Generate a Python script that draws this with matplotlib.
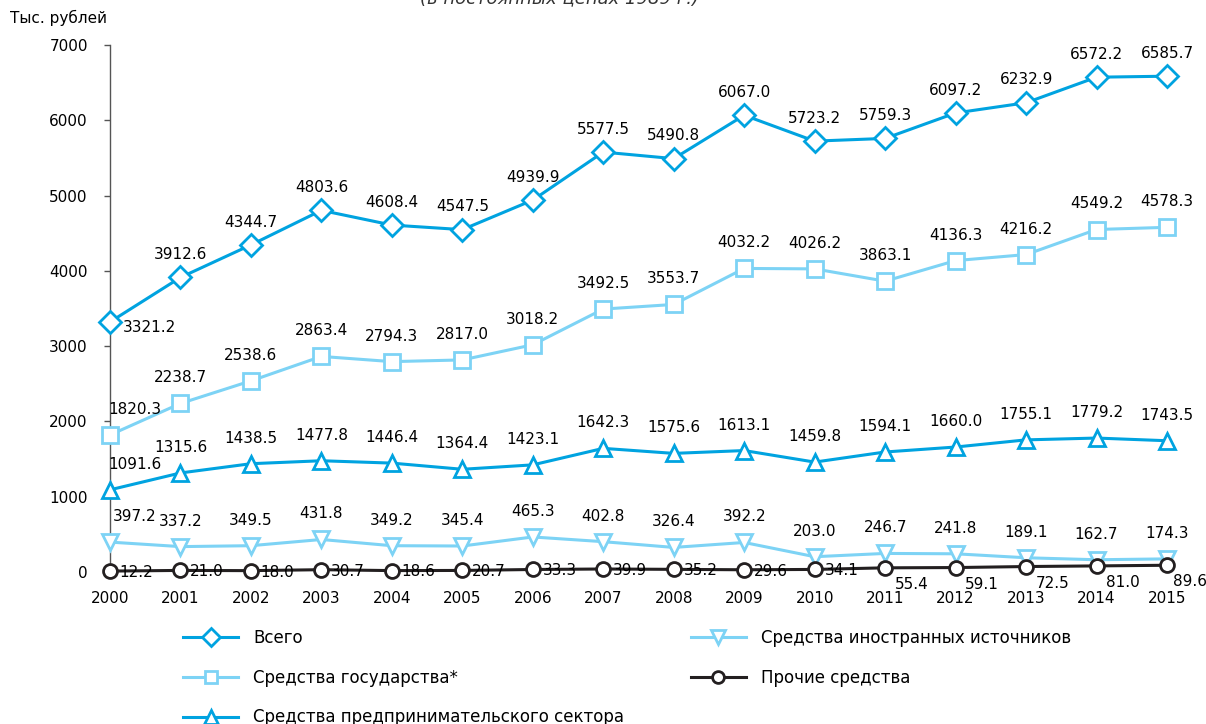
import matplotlib.pyplot as plt
from matplotlib import font_manager

names = {f.name for f in font_manager.fontManager.ttflist}
narrow = 'Liberation Sans Narrow' if 'Liberation Sans Narrow' in names else 'DejaVu Sans'
plt.rcParams['font.family'] = [narrow, 'DejaVu Sans']

years = list(range(2000, 2016))
total = [3321.2, 3912.6, 4344.7, 4803.6, 4608.4, 4547.5, 4939.9, 5577.5,
         5490.8, 6067.0, 5723.2, 5759.3, 6097.2, 6232.9, 6572.2, 6585.7]
state = [1820.3, 2238.7, 2538.6, 2863.4, 2794.3, 2817.0, 3018.2, 3492.5,
         3553.7, 4032.2, 4026.2, 3863.1, 4136.3, 4216.2, 4549.2, 4578.3]
business = [1091.6, 1315.6, 1438.5, 1477.8, 1446.4, 1364.4, 1423.1, 1642.3,
            1575.6, 1613.1, 1459.8, 1594.1, 1660.0, 1755.1, 1779.2, 1743.5]
foreign = [397.2, 337.2, 349.5, 431.8, 349.2, 345.4, 465.3, 402.8,
           326.4, 392.2, 203.0, 246.7, 241.8, 189.1, 162.7, 174.3]
other = [12.2, 21.0, 18.0, 30.7, 18.6, 20.7, 33.3, 39.9,
         35.2, 29.6, 34.1, 55.4, 59.1, 72.5, 81.0, 89.6]

names_ru = ['Всего', 'Средства государства*', 'Средства предпринимательского сектора',
            'Средства иностранных источников', 'Прочие средства']

blue = '#00a3e0'
light = '#7dd3f5'
dark = '#231f20'

fig = plt.figure(figsize=(12.06, 7.24), dpi=100)
ax = fig.add_axes([110 / 1206, 1 - 572 / 724, (1167 - 110) / 1206, (572 - 45) / 724])

series = [
    (total, blue, 'D', 11),
    (state, light, 's', 11),
    (business, blue, '^', 12),
    (foreign, light, 'v', 12),
    (other, dark, 'o', 10),
]
for (vals, col, mk, ms), name in zip(series, names_ru):
    ax.plot(years, vals, color=col, lw=2.2, marker=mk, ms=ms, mfc='white',
            mec=col, mew=2, label=name, clip_on=False, zorder=3)

fs = 11
# labels
for i, (x, v) in enumerate(zip(years, total)):
    if i == 0:
        ax.annotate(f'{v:.1f}', (x, v), xytext=(9, -4), textcoords='offset points',
                    ha='left', va='center', fontsize=fs)
    else:
        ax.annotate(f'{v:.1f}', (x, v), xytext=(0, 11), textcoords='offset points',
                    ha='center', va='bottom', fontsize=fs)
for vals in (state, business, foreign):
    for i, (x, v) in enumerate(zip(years, vals)):
        dx = 18 if i == 0 else 0
        ax.annotate(f'{v:.1f}', (x, v), xytext=(dx, 13), textcoords='offset points',
                    ha='center', va='bottom', fontsize=fs)
for i, (x, v) in enumerate(zip(years, other)):
    if x <= 2010:
        ax.annotate(f'{v:.1f}', (x, v), xytext=(7, -1), textcoords='offset points',
                    ha='left', va='center', fontsize=fs)
    else:
        dx = 4 if x == 2015 else 7
        ax.annotate(f'{v:.1f}', (x, v), xytext=(dx, -12), textcoords='offset points',
                    ha='left', va='center', fontsize=fs)

ax.set_xlim(2000, 2015)
ax.set_ylim(0, 7000)
ax.set_yticks(range(0, 7001, 1000))
ax.set_xticks(years)
ax.tick_params(axis='x', length=0, pad=14, labelsize=fs)
ax.tick_params(axis='y', length=4, width=1, color='#555555', pad=12, labelsize=fs)
for s in ['top', 'right', 'bottom']:
    ax.spines[s].set_visible(False)
ax.spines['left'].set_color('#555555')
ax.spines['left'].set_linewidth(1)
ax.patch.set_alpha(0)

fig.text(10 / 1206, 1 - 18 / 724, 'Тыс. рублей', fontsize=fs, va='center', ha='left')
fig.text(560 / 1206, 1 + 2 / 724, '(в постоянных ценах 1989 г.)', fontsize=13,
         style='italic', ha='center', va='center', color='#333333')

handles, labels = ax.get_legend_handles_labels()
fig.legend(handles, labels, ncol=2, loc='upper left',
           bbox_to_anchor=(183 / 1206, 1 - 629 / 724), frameon=False,
           borderpad=0, borderaxespad=0,
           fontsize=12, handlelength=3.3, handletextpad=0.9,
           columnspacing=4.0, labelspacing=1.3, markerscale=0.85)

fig.savefig('out.png', dpi=100)
